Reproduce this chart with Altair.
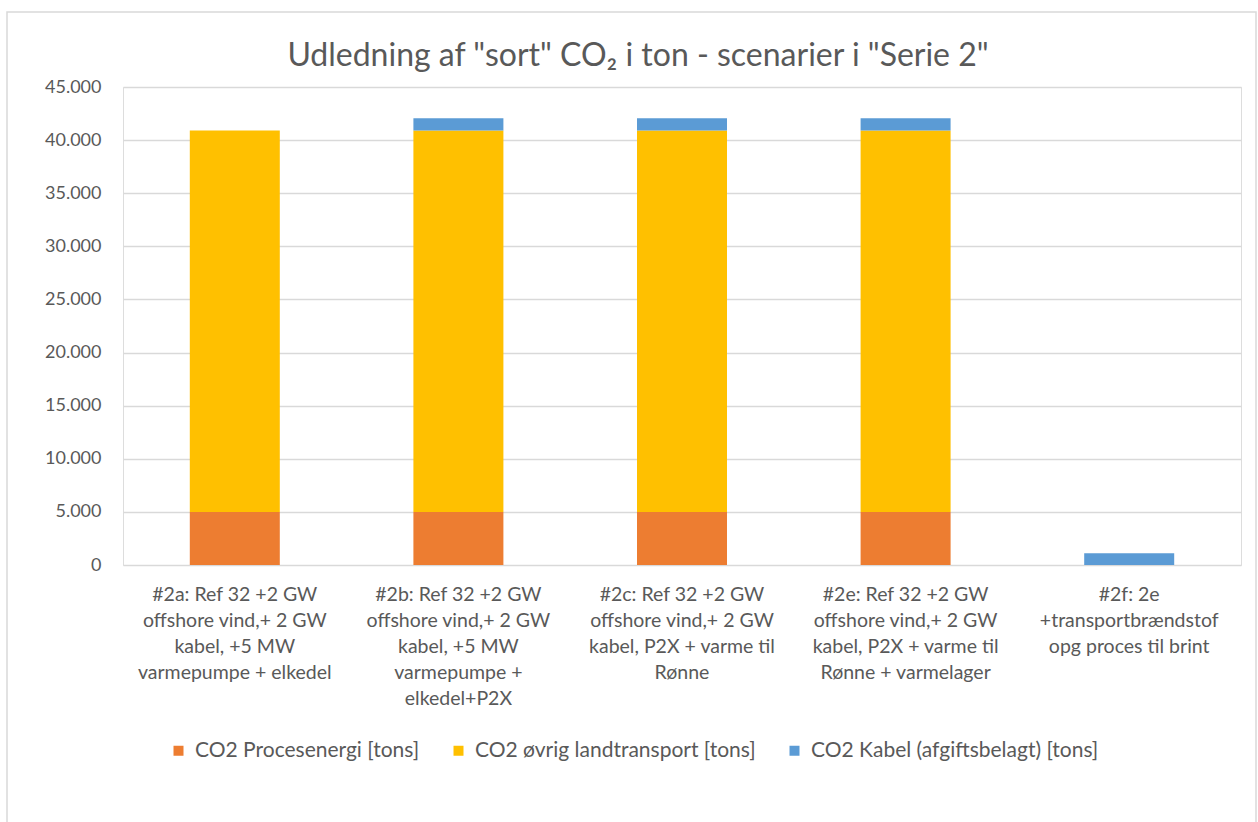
import altair as alt
import pandas as pd

title_text = 'Udledning af "sort" CO₂ i ton - scenarier i "Serie 2"'
categories = [
    "#2a:  Ref 32 +2 GW\noffshore vind,+ 2 GW\nkabel, +5 MW\nvarmepumpe + elkedel",
    "#2b:  Ref 32 +2 GW\noffshore vind,+ 2 GW\nkabel, +5 MW\nvarmepumpe +\nelkedel+P2X",
    "#2c: Ref 32 +2 GW\noffshore vind,+ 2 GW\nkabel, P2X +  varme til\nRønne",
    "#2e: Ref 32 +2 GW\noffshore vind,+ 2 GW\nkabel, P2X +  varme til\nRønne + varmelager",
    "#2f: 2e\n+transportbrændstof\nopg proces til brint",
]
series = [
    "CO2 Procesenergi [tons]",
    "CO2 øvrig landtransport [tons]",
    "CO2 Kabel (afgiftsbelagt) [tons]",
]
colors = ["#ED7D31", "#FFC000", "#5B9BD5"]
procesenergi = [5000, 5000, 5000, 5000, 0]
landtransport = [35900, 35900, 35900, 35900, 0]
kabel = [0, 1150, 1150, 1150, 1100]

rows = []
for i, c in enumerate(categories):
    for j, vals in enumerate([procesenergi, landtransport, kabel]):
        rows.append({"kategori": c, "serie": series[j], "vaerdi": vals[i], "orden": j})
df = pd.DataFrame(rows)

FONT = "Lato"
GRAY = "#595959"

bars = alt.Chart(df).mark_bar(size=90).encode(
    x=alt.X("kategori:N", sort=categories, title=None,
            scale=alt.Scale(paddingInner=0.6, paddingOuter=0.3),
            axis=alt.Axis(labelAngle=0, labelExpr="split(datum.label, '\\n')",
                          labelFontSize=19.5, labelColor=GRAY, labelFont=FONT,
                          labelLineHeight=26, labelPadding=20, labelBaseline="top",
                          ticks=False, domain=False, labelLimit=300)),
    y=alt.Y("vaerdi:Q", title=None, stack="zero",
            scale=alt.Scale(domain=[0, 45000], nice=False),
            axis=alt.Axis(values=list(range(0, 45001, 5000)),
                          labelExpr="replace(format(datum.value, ',d'), ',', '.')",
                          labelFontSize=18, labelColor=GRAY, labelFont=FONT,
                          labelPadding=22, ticks=False, domain=False,
                          gridColor="#d9d9d9", gridWidth=1.5)),
    color=alt.Color("serie:N", sort=series,
                    scale=alt.Scale(domain=series, range=colors),
                    legend=alt.Legend(title=None, orient="none", direction="horizontal",
                                      legendX=45, legendY=653, symbolType="square",
                                      symbolSize=100, symbolStrokeWidth=0,
                                      labelFontSize=21, labelColor=GRAY, labelFont=FONT,
                                      labelLimit=500, columnPadding=28, labelOffset=6)),
    order=alt.Order("orden:Q"),
)

one = pd.DataFrame({"f": [0]})
frame = alt.Chart(one).mark_rect(
    fill=None, stroke="#d9d9d9", strokeWidth=1.5
).encode(x=alt.value(-116), x2=alt.value(1133), y=alt.value(-75), y2=alt.value(760))

title = alt.Chart(one).mark_text(
    font=FONT, fontSize=32, color=GRAY, align="center", baseline="alphabetic"
).encode(x=alt.value(515), y=alt.value(-21), text=alt.value(title_text))

chart = alt.layer(frame, bars, title).properties(
    width=1118, height=478,
    padding={"left": 123, "top": 87, "right": 17, "bottom": 257},
    autosize=alt.AutoSizeParams(type="none"),
).configure_view(stroke=None).configure(background="white")

chart.save("out.html", embed_options={"renderer": "svg", "actions": False})
